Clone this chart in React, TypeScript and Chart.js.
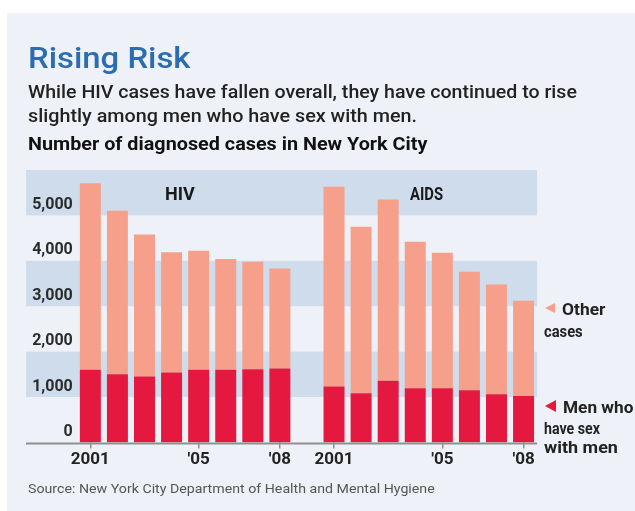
import React, { useEffect, useLayoutEffect, useRef, useState } from "react";
import { Chart, registerables } from "chart.js";

Chart.register(...registerables);

// ---- data ----
const CATEGORIES = [
  "HIV 2001", "HIV 2002", "HIV 2003", "HIV 2004", "HIV 2005", "HIV 2006", "HIV 2007", "HIV 2008",
  "",
  "AIDS 2001", "AIDS 2002", "AIDS 2003", "AIDS 2004", "AIDS 2005", "AIDS 2006", "AIDS 2007", "AIDS 2008",
];
const TICK_LABELS = [
  "2001", "", "", "", "'05", "", "", "'08",
  "",
  "2001", "", "", "", "'05", "", "", "'08",
];
const MSM_CASES = [1600, 1500, 1450, 1540, 1600, 1600, 1610, 1630, null, 1230, 1080, 1360, 1190, 1190, 1150, 1060, 1020];
const OTHER_CASES = [4110, 3600, 3130, 2650, 2620, 2440, 2370, 2200, null, 4400, 3670, 3990, 3230, 2990, 2610, 2420, 2100];
const Y_MAX = 6000;
const Y_STEP = 1000;
const Y_LABELED_MAX = 5000;
const SHADED_BANDS = [[1000, 2000], [3000, 4000], [5000, 6000]];

const FONT = "Roboto";

type LineProps = {
  text: string;
  left: number;
  baseline: number;
  width: number;
  size: number;
  weight?: number;
  color?: string;
};

function FitLine({ text, left, baseline, width, size, weight = 400, color = "#222" }: LineProps) {
  const ref = useRef<HTMLSpanElement>(null);
  const [sx, setSx] = useState(1);
  useLayoutEffect(() => {
    const el = ref.current;
    if (el && el.offsetWidth) setSx(width / el.offsetWidth);
  }, [text, width, size, weight]);
  return (
    <span
      ref={ref}
      style={{
        position: "absolute",
        left,
        top: baseline - 0.842 * size,
        fontFamily: FONT,
        fontSize: size,
        fontWeight: weight,
        lineHeight: 1,
        whiteSpace: "nowrap",
        color,
        transform: `scaleX(${sx})`,
        transformOrigin: "left top",
      }}
    >
      {text}
    </span>
  );
}

function Triangle({ left, cy, color, w, h }: { left: number; cy: number; color: string; w: number; h: number }) {
  return (
    <div
      style={{
        position: "absolute",
        left,
        top: cy - h / 2,
        width: 0,
        height: 0,
        borderTop: `${h / 2}px solid transparent`,
        borderBottom: `${h / 2}px solid transparent`,
        borderRight: `${w}px solid ${color}`,
      }}
    />
  );
}

const BAND_LEFT = 26;

const decorPlugin = {
  id: "decor",
  beforeDraw(chart: any) {
    const { ctx, chartArea, scales } = chart;
    const y = scales.y;
    ctx.save();
    ctx.fillStyle = "#cfdcec";
    for (const [lo, hi] of SHADED_BANDS) {
      const top = y.getPixelForValue(hi);
      const bot = y.getPixelForValue(lo);
      ctx.fillRect(BAND_LEFT, top, chartArea.right - BAND_LEFT, bot - top);
    }
    ctx.restore();
  },
  afterDatasetsDraw(chart: any) {
    const { ctx, chartArea, scales } = chart;
    const y0 = scales.y.getPixelForValue(0);
    ctx.save();
    ctx.strokeStyle = "#8f8f8f";
    ctx.lineWidth = 2;
    ctx.beginPath();
    ctx.moveTo(BAND_LEFT, y0 + 1);
    ctx.lineTo(chartArea.right, y0 + 1);
    ctx.stroke();
    ctx.restore();
  },
};

export default function App() {
  const canvasRef = useRef<HTMLCanvasElement>(null);

  useEffect(() => {
    if (!canvasRef.current) return;
    Chart.defaults.font.family = FONT;
    const chart = new Chart(canvasRef.current, {
      type: "bar",
      data: {
        labels: CATEGORIES,
        datasets: [
          {
            label: "Men who have sex with men",
            data: MSM_CASES as any,
            backgroundColor: "#e5183f",
            barPercentage: 0.775,
            categoryPercentage: 1,
          },
          {
            label: "Other cases",
            data: OTHER_CASES as any,
            backgroundColor: "#f6a08c",
            barPercentage: 0.775,
            categoryPercentage: 1,
          },
        ],
      },
      options: {
        responsive: false,
        animation: false,
        layout: { padding: { left: 0, right: 97.9, top: 170, bottom: 0 } },
        plugins: { legend: { display: false }, tooltip: { enabled: false } },
        scales: {
          x: {
            stacked: true,
            grid: {
              display: true,
              offset: false,
              drawOnChartArea: false,
              drawTicks: true,
              tickLength: 6,
              lineWidth: 1.5,
              color: (ctx: any) => (TICK_LABELS[ctx.index] ? "#8f8f8f" : "rgba(0,0,0,0)"),
            },
            border: { display: false },
            ticks: {
              autoSkip: false,
              maxRotation: 0,
              minRotation: 0,
              padding: 1,
              color: "#222",
              font: { family: FONT, size: 17, weight: "bold" },
              callback: (_v: any, i: number) => TICK_LABELS[i],
            },
            afterFit: (s: any) => {
              s.height = 68.6;
            },
          },
          y: {
            stacked: true,
            min: 0,
            max: Y_MAX,
            grid: { display: false, drawTicks: false },
            border: { display: false },
            ticks: {
              stepSize: Y_STEP,
              padding: 4,
              labelOffset: -10.5,
              color: "#2a2a2a",
              font: { family: FONT, size: 16, weight: "bold" },
              callback: (v: any) => (Number(v) > Y_LABELED_MAX ? "" : Number(v).toLocaleString("en-US")),
            },
            afterFit: (s: any) => {
              s.width = 76.8;
            },
          },
        },
      },
      plugins: [decorPlugin],
    });
    return () => chart.destroy();
  }, []);

  return (
    <div style={{ position: "absolute", left: 0, top: 0, width: 635, height: 511, background: "#fff", overflow: "hidden" }}>
      <div style={{ position: "absolute", left: 7, top: 13, right: 0, bottom: 0, background: "#eef2f8" }} />
      <canvas ref={canvasRef} width={635} height={511} style={{ position: "absolute", left: 0, top: 0 }} />

      <FitLine text="Rising Risk" left={28} baseline={68.5} width={162} size={29} weight={500} color="#2b6db0" />
      <FitLine text="While HIV cases have fallen overall, they have continued to rise" left={28} baseline={97.5} width={549} size={19} weight={500} color="#222" />
      <FitLine text="slightly among men who have sex with men." left={28} baseline={122} width={389} size={19} weight={500} color="#222" />
      <FitLine text="Number of diagnosed cases in New York City" left={28} baseline={150} width={399} size={19} weight={700} color="#111" />

      <FitLine text="HIV" left={165} baseline={200} width={30} size={18} weight={700} color="#1a1a1a" />
      <FitLine text="AIDS" left={410} baseline={200} width={33} size={18} weight={700} color="#1a1a1a" />

      <Triangle left={545} cy={308} color="#f6a08c" w={10} h={11} />
      <FitLine text="Other" left={562} baseline={315} width={43} size={17} weight={700} color="#222" />
      <FitLine text="cases" left={544} baseline={337} width={39} size={17} weight={700} color="#222" />

      <Triangle left={545} cy={406} color="#e5183f" w={11} h={12} />
      <FitLine text="Men who" left={563} baseline={413} width={70} size={17} weight={700} color="#222" />
      <FitLine text="have sex" left={544} baseline={434} width={56} size={17} weight={700} color="#222" />
      <FitLine text="with men" left={544} baseline={453} width={74} size={17} weight={700} color="#222" />

      <FitLine text="Source: New York City Department of Health and Mental Hygiene" left={28} baseline={492.7} width={407} size={13} weight={400} color="#555" />
    </div>
  );
}
